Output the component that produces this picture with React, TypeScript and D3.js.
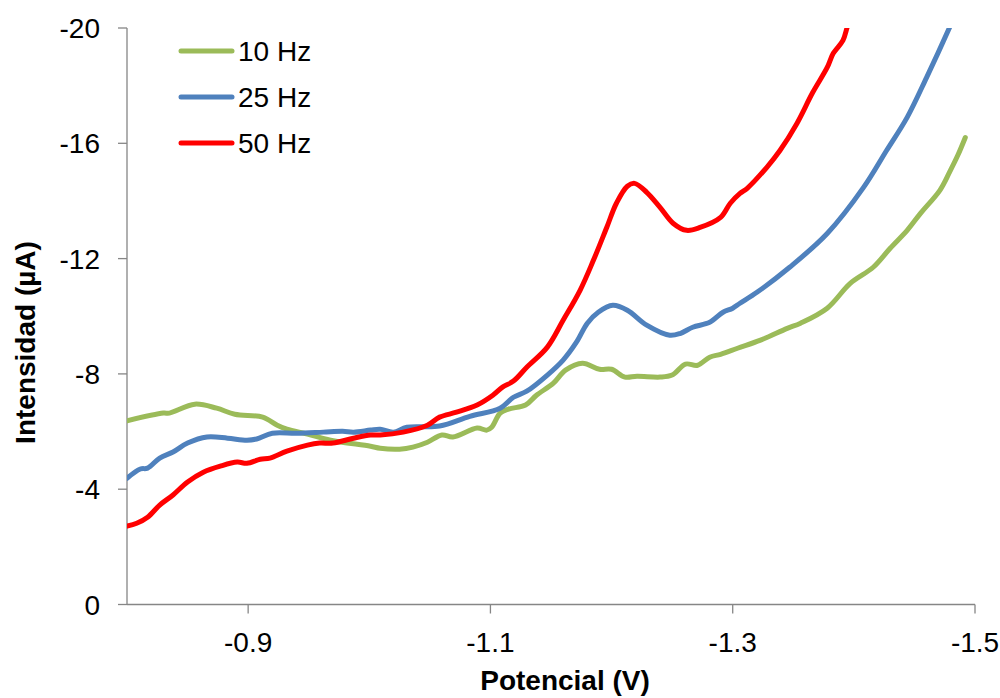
import React from "react";
import * as d3 from "d3";

const seriesNames = ["10 Hz", "25 Hz", "50 Hz"];
const seriesColors = ["#9BBB59", "#4F81BD", "#FF0000"];

const potential10: number[] = [-0.800, -0.830, -0.835, -0.856, -0.874, -0.889, -0.912, -0.924, -0.932, -0.949, -0.968, -1.001, -1.009, -1.025, -1.036, -1.048, -1.060, -1.069, -1.089, -1.097, -1.101, -1.108, -1.115, -1.129, -1.138, -1.152, -1.162, -1.176, -1.190, -1.200, -1.211, -1.221, -1.240, -1.250, -1.261, -1.271, -1.281, -1.290, -1.304, -1.323, -1.345, -1.356, -1.378, -1.397, -1.416, -1.430, -1.444, -1.455, -1.471, -1.479, -1.486, -1.492];
const current10: number[] = [-6.37, -6.64, -6.64, -6.95, -6.81, -6.60, -6.50, -6.22, -6.08, -5.91, -5.70, -5.49, -5.42, -5.39, -5.46, -5.63, -5.88, -5.81, -6.12, -6.05, -6.15, -6.64, -6.78, -6.92, -7.26, -7.68, -8.13, -8.37, -8.16, -8.16, -7.89, -7.92, -7.89, -7.96, -8.34, -8.30, -8.58, -8.68, -8.89, -9.17, -9.58, -9.76, -10.28, -11.14, -11.70, -12.36, -12.98, -13.57, -14.37, -15.00, -15.60, -16.20];

const potential25: number[] = [-0.800, -0.811, -0.817, -0.827, -0.838, -0.850, -0.866, -0.883, -0.899, -0.907, -0.920, -0.940, -0.962, -0.978, -0.987, -1.001, -1.009, -1.020, -1.031, -1.058, -1.083, -1.108, -1.119, -1.130, -1.147, -1.160, -1.171, -1.180, -1.189, -1.201, -1.213, -1.229, -1.248, -1.257, -1.267, -1.281, -1.292, -1.300, -1.306, -1.320, -1.347, -1.378, -1.408, -1.427, -1.444, -1.460, -1.479, -1.486];
const current25: number[] = [-4.38, -4.70, -4.73, -5.08, -5.29, -5.60, -5.81, -5.77, -5.70, -5.74, -5.94, -5.94, -5.98, -6.01, -5.98, -6.05, -6.08, -5.98, -6.15, -6.19, -6.53, -6.81, -7.19, -7.40, -7.96, -8.48, -9.10, -9.76, -10.14, -10.38, -10.21, -9.69, -9.34, -9.41, -9.62, -9.79, -10.14, -10.28, -10.45, -10.83, -11.70, -12.87, -14.47, -15.75, -16.90, -18.28, -20.02, -20.70];

const potential50: number[] = [-0.800, -0.808, -0.817, -0.827, -0.838, -0.850, -0.863, -0.877, -0.891, -0.899, -0.910, -0.918, -0.932, -0.949, -0.959, -0.970, -0.987, -1.001, -1.009, -1.028, -1.048, -1.058, -1.072, -1.089, -1.102, -1.110, -1.119, -1.130, -1.147, -1.160, -1.174, -1.185, -1.196, -1.204, -1.213, -1.219, -1.229, -1.240, -1.251, -1.262, -1.273, -1.290, -1.298, -1.306, -1.312, -1.328, -1.339, -1.353, -1.366, -1.378, -1.383, -1.391, -1.395, -1.400];
const current50: number[] = [-2.72, -2.82, -3.03, -3.45, -3.80, -4.25, -4.59, -4.80, -4.94, -4.90, -5.04, -5.08, -5.32, -5.53, -5.60, -5.60, -5.77, -5.88, -5.88, -5.98, -6.22, -6.50, -6.67, -6.92, -7.26, -7.54, -7.75, -8.23, -8.93, -9.86, -10.90, -11.94, -13.08, -13.92, -14.51, -14.61, -14.30, -13.78, -13.22, -12.98, -13.08, -13.43, -13.92, -14.26, -14.44, -15.16, -15.75, -16.69, -17.76, -18.63, -19.12, -19.57, -20.09, -20.60];

const xTicks: number[] = [-0.9, -1.1, -1.3, -1.5];
const yTicks: number[] = [0, -4, -8, -12, -16, -20];

const xTitle = "Potencial (V)";
const yTitle = "Intensidad (µA)";

const W = 1000;
const H = 698;
const left = 127;
const right = 975;
const top = 28;
const bottom = 604.5;
const font = "'Liberation Sans', Arial, sans-serif";
const axisColor = "#868686";

export default function App() {
  const x = d3.scaleLinear().domain([-0.8, -1.5]).range([left, right]);
  const y = d3.scaleLinear().domain([0, -20]).range([bottom, top]);

  const series = [
    { xs: potential10, ys: current10 },
    { xs: potential25, ys: current25 },
    { xs: potential50, ys: current50 },
  ];

  const line = d3
    .line<[number, number]>()
    .x((d) => x(d[0]))
    .y((d) => y(d[1]))
    .curve(d3.curveCatmullRom.alpha(0.5));

  return (
    <svg
      width={W}
      height={H}
      style={{ position: "absolute", left: 0, top: 0, background: "#fff" }}
      fontFamily={font}
    >
      <rect x={0} y={0} width={W} height={H} fill="#fff" />
      <defs>
        <clipPath id="plotClip">
          <rect x={left} y={top} width={W - left} height={bottom - top + 10} />
        </clipPath>
      </defs>

      {/* axes */}
      <line x1={left} x2={left} y1={top} y2={bottom} stroke={axisColor} strokeWidth={1.3} />
      <line x1={left} x2={right} y1={bottom} y2={bottom} stroke={axisColor} strokeWidth={1.3} />
      {yTicks.map((t) => (
        <g key={"y" + t}>
          <line x1={left - 9} x2={left} y1={y(t)} y2={y(t)} stroke={axisColor} strokeWidth={1.3} />
          <text x={100} y={y(t)} dy={10} textAnchor="end" fontSize={28} fill="#000">
            {t === 0 ? "0" : String(t)}
          </text>
        </g>
      ))}
      {xTicks.map((t) => (
        <g key={"x" + t}>
          <line x1={x(t)} x2={x(t)} y1={bottom} y2={bottom + 9} stroke={axisColor} strokeWidth={1.3} />
          <text x={x(t)} y={652} textAnchor="middle" fontSize={28} fill="#000">
            {t.toFixed(1)}
          </text>
        </g>
      ))}

      {/* titles */}
      <text x={565} y={690} textAnchor="middle" fontSize={28} fontWeight="bold" fill="#000">
        {xTitle}
      </text>
      <text
        transform="translate(35,342.5) rotate(-90)"
        textAnchor="middle"
        fontSize={28}
        fontWeight="bold"
        fill="#000"
      >
        {yTitle}
      </text>

      {/* series */}
      <g clipPath="url(#plotClip)">
        {series.map((s, i) => (
          <path
            key={seriesNames[i]}
            d={line(s.xs.map((v, k) => [v, s.ys[k]] as [number, number])) || ""}
            fill="none"
            stroke={seriesColors[i]}
            strokeWidth={5}
            strokeLinejoin="round"
            strokeLinecap="round"
          />
        ))}
      </g>

      {/* legend */}
      {seriesNames.map((n, i) => {
        const ly = 51 + i * 46;
        return (
          <g key={"leg" + n}>
            <line x1={181} x2={232} y1={ly} y2={ly} stroke={seriesColors[i]} strokeWidth={5} strokeLinecap="round" />
            <text x={238} y={ly} dy={10} fontSize={28} fill="#000">
              {n}
            </text>
          </g>
        );
      })}
    </svg>
  );
}
